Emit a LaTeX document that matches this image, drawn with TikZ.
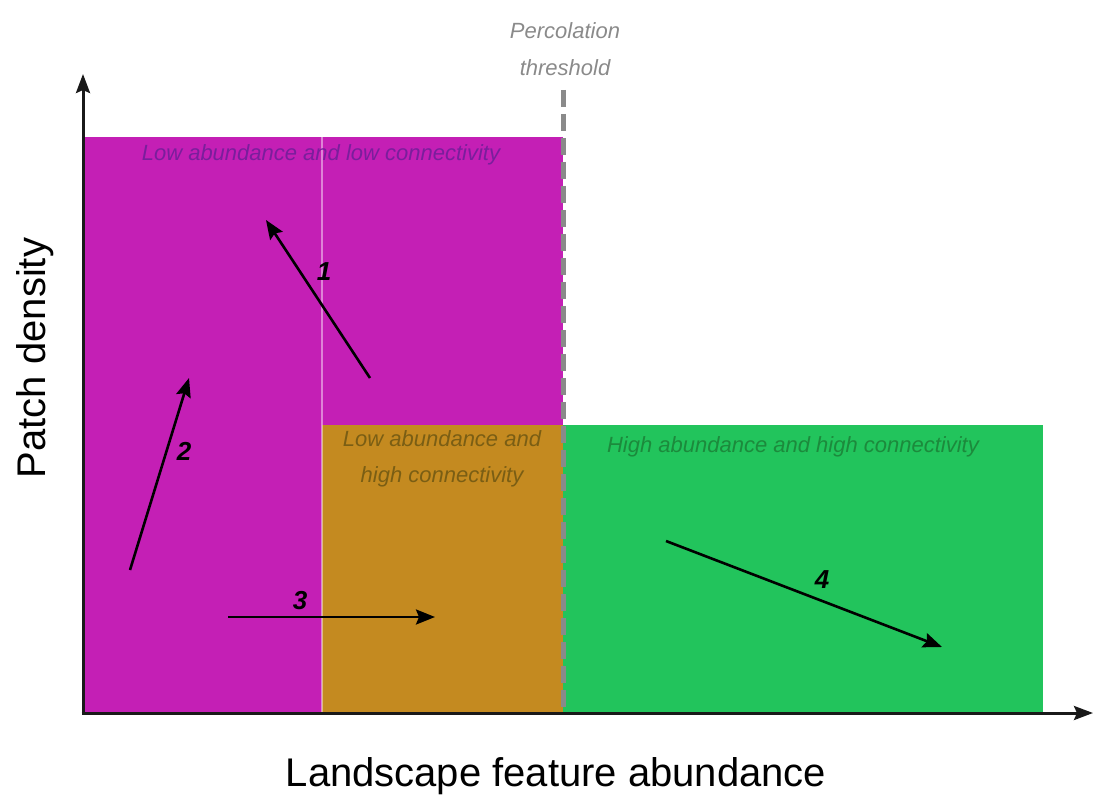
\documentclass[tikz,border=0pt]{standalone}
\usepackage{fontspec}
\setmainfont{Liberation Sans}
\usetikzlibrary{arrows.meta}
\definecolor{zoneA}{HTML}{C41FB5}
\definecolor{zoneB}{HTML}{C48A20}
\definecolor{zoneC}{HTML}{22C45C}
\definecolor{textA}{HTML}{7A1E9C}
\definecolor{textB}{HTML}{7A5E14}
\definecolor{textC}{HTML}{1C8A3C}
\definecolor{thresh}{HTML}{8A8A8A}
\tikzset{
  zonelabel/.style={font=\itshape\fontsize{22}{36}\selectfont, align=center, inner sep=0pt},
  axislabel/.style={font=\fontsize{40}{44}\selectfont, inner sep=0pt},
  trend/.style={line width=2.6pt, -{Stealth[length=19pt,width=15pt,inset=3pt]}},
  trendnum/.style={font=\bfseries\itshape\fontsize{26}{28}\selectfont, inner sep=0pt},
  axisline/.style={line width=3pt, draw=black!90, -{Stealth[length=19pt,width=14pt,inset=3pt]}}
}
\begin{document}
\begin{tikzpicture}[x=1pt, y=-1pt]
  \useasboundingbox (0,0) rectangle (1093,797);

  % coloured zones
  \fill[zoneA] (83,137) rectangle (563,713);
  \fill[zoneB] (322,425) rectangle (563,713);
  \fill[zoneC] (563,425) rectangle (1043,713);
  \draw[white, opacity=0.45, line width=1.2pt] (322,137) -- (322,713);

  % percolation threshold
  \draw[thresh, line width=5pt, dash pattern=on 17pt off 7pt] (563,90) -- (563,713);
  \node[zonelabel, text=thresh, font=\itshape\fontsize{22}{37}\selectfont] (perc) at (565,49) {Percolation\\threshold};

  % axes
  \coordinate (origin) at (83,713);
  \coordinate (ytip) at (83,74);
  \coordinate (xtip) at (1093,713);
  \draw[axisline] (origin) -- (ytip);
  \draw[axisline] ([xshift=-1.5pt]origin) -- (xtip);
  \node[axislabel, rotate=90] (ylab) at (35,358) {Patch density};
  \node[axislabel] (xlab) at (556,776) {Landscape feature abundance};

  % zone labels
  \node[zonelabel, text=textA] (labA) at (321,155) {Low abundance and low connectivity};
  \node[zonelabel, text=textB] (labB) at (442,459) {Low abundance and\\high connectivity};
  \node[zonelabel, text=textC] (labC) at (793,447) {High abundance and high connectivity};

  % trend arrows
  \coordinate (a1s) at (370,378); \coordinate (a1e) at (266,220);
  \coordinate (a2s) at (130,570); \coordinate (a2e) at (189,378);
  \coordinate (a3s) at (228,617); \coordinate (a3e) at (435,617);
  \coordinate (a4s) at (666,541); \coordinate (a4e) at (942,647);
  \draw[trend] (a1s) -- (a1e);
  \draw[trend] (a2s) -- (a2e);
  \draw[trend] (a3s) -- (a3e);
  \draw[trend] (a4s) -- (a4e);
  \node[trendnum] (n1) at (324,272) {1};
  \node[trendnum] (n2) at (184,451) {2};
  \node[trendnum] (n3) at (300,601) {3};
  \node[trendnum] (n4) at (822,580) {4};
\end{tikzpicture}
\end{document}
